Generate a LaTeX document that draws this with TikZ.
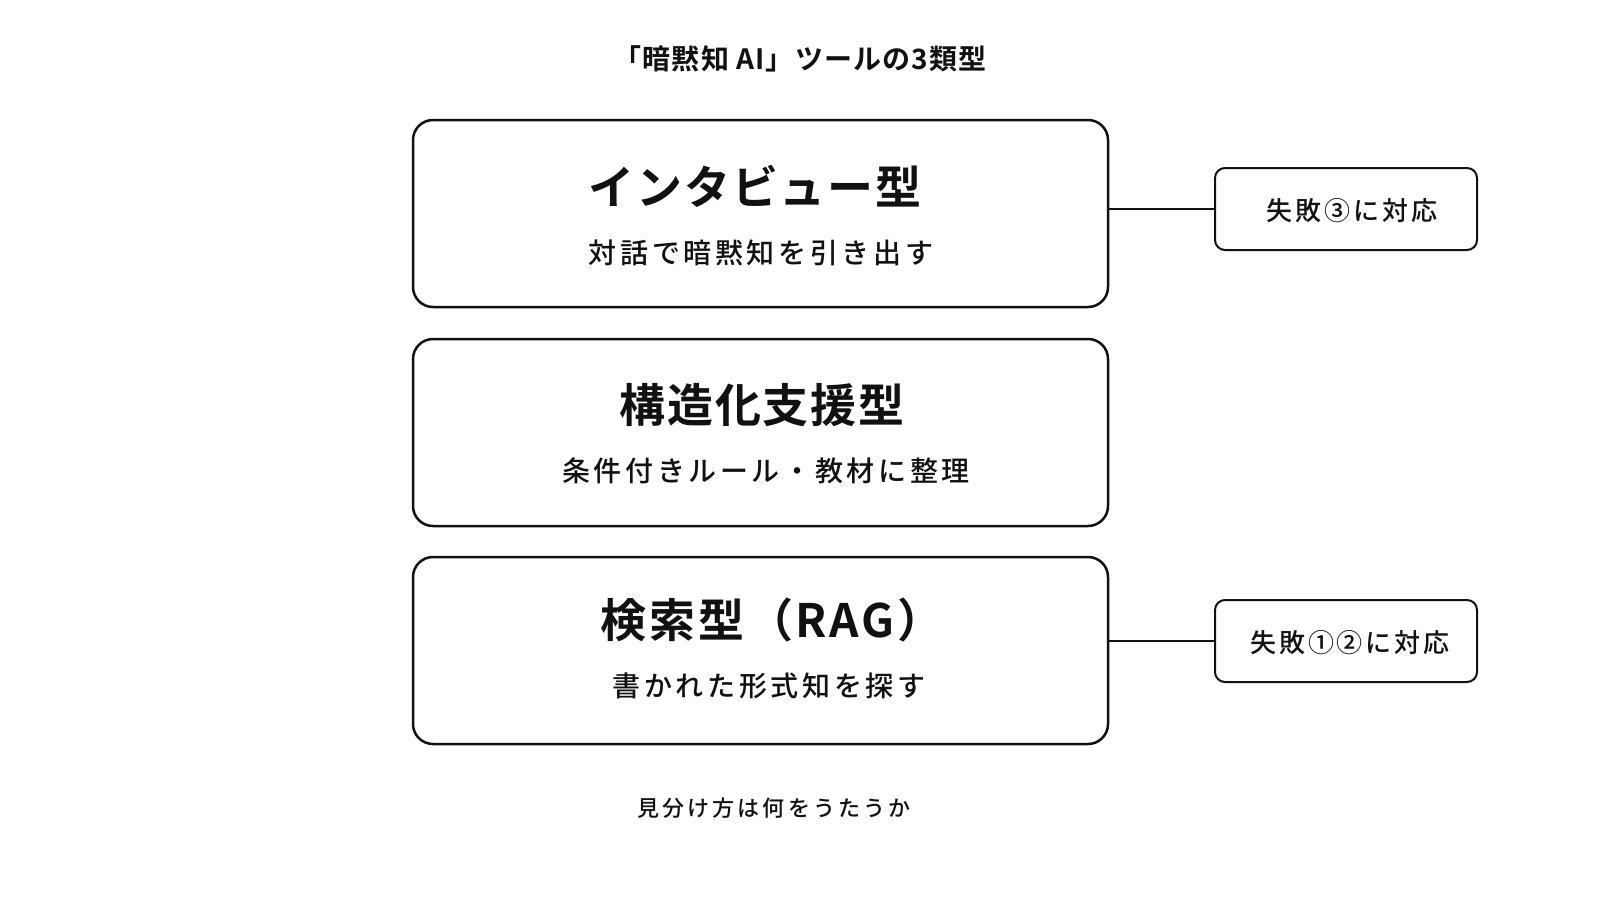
\documentclass[tikz,border=0pt]{standalone}
\usepackage{fontspec}
\setmainfont{Noto Sans CJK JP}
\newfontfamily\jpbold[LetterSpace=4]{Noto Sans CJK JP Bold}
\newfontfamily\jptitle[LetterSpace=4]{Noto Sans CJK JP Bold}
\newfontfamily\jpsub[LetterSpace=13]{Noto Sans CJK JP Medium}
\newfontfamily\jpside[LetterSpace=11]{Noto Sans CJK JP Medium}
\newfontfamily\jpfoot[LetterSpace=14]{Noto Sans CJK JP Medium}
\definecolor{ink}{HTML}{111111}
\begin{document}
\begin{tikzpicture}[x=1pt,y=-1pt,
  mainbox/.style={draw=ink,line width=2.5pt,rounded corners=20pt,minimum width=695pt,minimum height=187pt,inner sep=0pt},
  sidebox/.style={draw=ink,line width=2pt,rounded corners=10pt,minimum width=262pt,minimum height=82pt,inner sep=0pt},
  headtext/.style={font=\jpbold\fontsize{46pt}{50pt}\selectfont,text=ink,inner sep=0pt},
  subtext/.style={font=\jpsub\fontsize{28pt}{32pt}\selectfont,text=ink,inner sep=0pt},
  sidetext/.style={font=\jpside\fontsize{26pt}{30pt}\selectfont,text=ink,inner sep=0pt},
  link/.style={draw=ink,line width=2pt}]
\useasboundingbox[fill=white] (0,0) rectangle (1600,900);
\node[font=\jptitle\fontsize{28pt}{32pt}\selectfont,text=ink] (title) at (800,59) {「暗黙知 AI」ツールの3類型};
\node[mainbox] (b1) at (760.5,213.5) {};
\node[mainbox] (b2) at (760.5,432.5) {};
\node[mainbox] (b3) at (760.5,650.5) {};
\node[headtext] (h1) at (755,186) {インタビュー型};
\node[subtext] (s1) at (761,253) {対話で暗黙知を引き出す};
\node[headtext] (h2) at (762,405) {構造化支援型};
\node[subtext] (s2) at (766,471) {条件付きルール・教材に整理};
\node[headtext,font=\jpbold\addfontfeatures{LetterSpace=6}\fontsize{46pt}{50pt}\selectfont] (h3) at (772,620) {検索型（RAG）};
\node[subtext] (s3) at (769,686) {書かれた形式知を探す};
\node[sidebox] (r1) at (1346,209) {};
\node[sidetext] (t1) at (1352,211) {失敗③に対応};
\node[sidebox] (r3) at (1346,641) {};
\node[sidetext] (t3) at (1350,643) {失敗①②に対応};
\draw[link] (r1.west) -- (r1.west -| b1.east);
\draw[link] (r3.west) -- (r3.west -| b3.east);
\node[font=\jpfoot\fontsize{22pt}{26pt}\selectfont,text=ink] (foot) at (774,808) {見分け方は何をうたうか};
\end{tikzpicture}
\end{document}
